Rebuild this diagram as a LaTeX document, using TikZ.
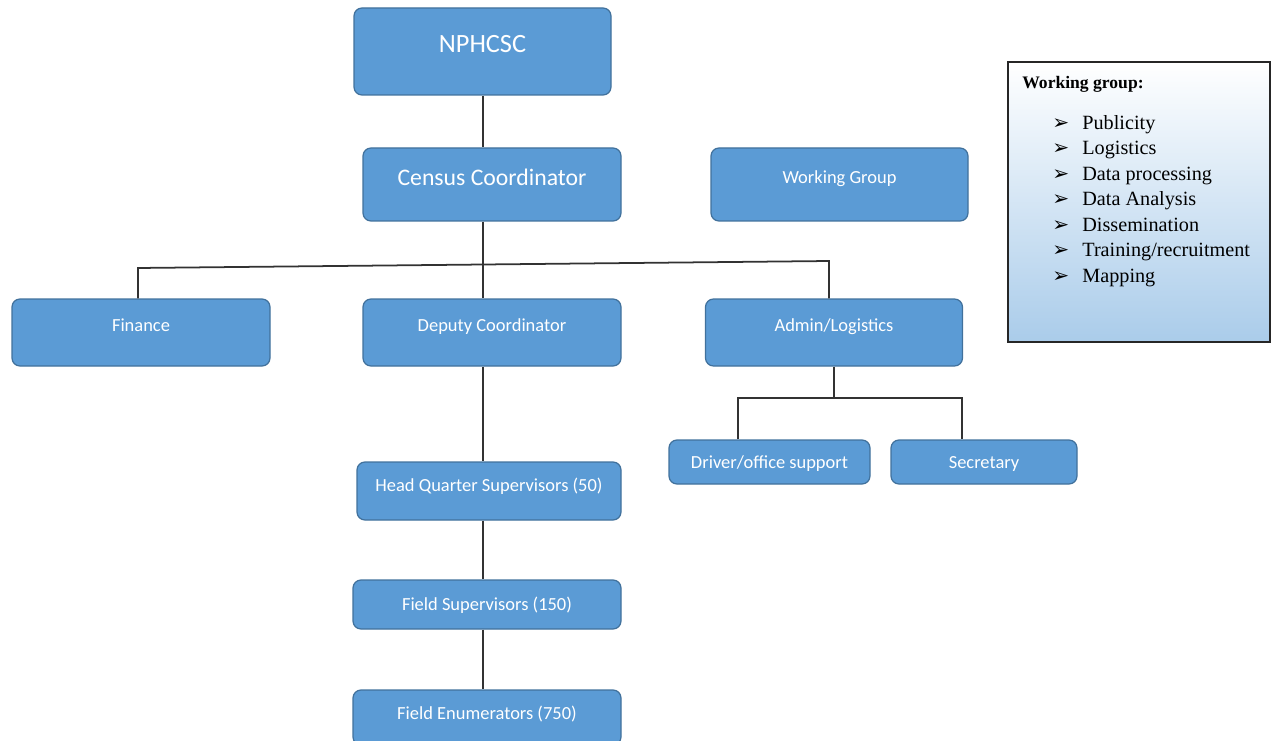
\documentclass[tikz,border=0pt]{standalone}
\usepackage{fontspec}
\newfontfamily\carlito{Carlito}
\newfontfamily\timesfont{Liberation Serif}
\newfontfamily\dejavu{DejaVu Sans}

\definecolor{boxblue}{RGB}{91,155,213}
\definecolor{boxedge}{RGB}{65,113,156}
\definecolor{wgblue}{RGB}{170,204,234}
\definecolor{linkgray}{RGB}{50,50,50}

\tikzset{
  box/.style={draw=boxedge, fill=boxblue, line width=0.7pt, rounded corners=0.16cm,
    text=white, inner sep=0pt, font=\carlito\fontsize{10.5}{12}\selectfont,
    text height=0.24cm, text depth=0.28cm},
  flat/.style={text depth=0cm},
  rootfont/.style={font=\carlito\fontsize{15}{18}\selectfont, text height=0.34cm, text depth=0.30cm},
  leadfont/.style={font=\carlito\fontsize{13.5}{16}\selectfont, text height=0.31cm, text depth=0.26cm},
  link/.style={draw=linkgray, line width=1pt},
  panel/.style={draw=black!85, line width=0.8pt, top color=white, bottom color=wgblue, inner sep=0pt},
  listtext/.style={anchor=base west, inner sep=0pt, font=\timesfont\fontsize{11.5}{14}\selectfont},
  tickmark/.style={anchor=base west, inner sep=0pt, font=\dejavu\fontsize{11.5}{14}\selectfont}
}

\begin{document}
\begin{tikzpicture}

\useasboundingbox (0, 0) rectangle (25.5, 14.8);

\draw (9.65, 13.77) node[box, rootfont, minimum width=5.14cm, minimum height=1.74cm] (np) {NPHCSC};

\draw (9.84, 11.11) node[box, leadfont, minimum width=5.16cm, minimum height=1.46cm] (cc) {Census Coordinator};

\draw (16.79, 11.11) node[box, minimum width=5.14cm, minimum height=1.46cm] (wg) {Working Group};

\draw (2.82, 8.15) node[box, minimum width=5.16cm, minimum height=1.34cm] (fin) {Finance};

\draw (9.84, 8.15) node[box, minimum width=5.16cm, minimum height=1.34cm] (dep) {Deputy Coordinator};

\draw (16.68, 8.15) node[box, minimum width=5.14cm, minimum height=1.34cm] (adm) {Admin/Logistics};

\draw (15.39, 5.56) node[box, flat, minimum width=4.02cm, minimum height=0.88cm] (drv) {Driver/office support};

\draw (19.68, 5.56) node[box, flat, minimum width=3.72cm, minimum height=0.88cm] (sec) {Secretary};

\draw (9.78, 4.98) node[box, text depth=0.24cm, minimum width=5.28cm, minimum height=1.16cm] (hq) {Head Quarter Supervisors (50)};

\draw (9.74, 2.71) node[box, flat, minimum width=5.36cm, minimum height=0.98cm] (fs) {Field Supervisors (150)};

\draw (9.74, 0.45) node[box, text depth=0.18cm, minimum width=5.36cm, minimum height=1.1cm] (fe) {Field Enumerators (750)};

\coordinate (spine) at (9.66, 0);
\coordinate (barL) at (2.76, 9.44);
\coordinate (barR) at (16.58, 9.58);
\coordinate (subL) at (14.76, 6.84);
\coordinate (subR) at (19.24, 6.84);

\draw[link] (spine |- np.south) -- (spine |- cc.north);
\draw[link] (spine |- cc.south) -- (spine |- dep.north);
\draw[link] (spine |- dep.south) -- (spine |- hq.north);
\draw[link] (spine |- hq.south) -- (spine |- fs.north);
\draw[link] (spine |- fs.south) -- (spine |- fe.north);

\draw[link] (barL |- fin.north) -- (barL) -- (barR) -- (barR |- adm.north);

\draw[link] (adm.south) -- (adm.south |- subL);
\draw[link] (subL |- drv.north) -- (subL) -- (subR) -- (subR |- sec.north);

% working group panel
\draw (22.78, 10.76) node[panel, minimum width=5.24cm, minimum height=5.6cm] (wgl) {};

\draw (20.44, 13.03) node[anchor=base west, inner sep=0pt, font=\timesfont\bfseries\fontsize{10}{12}\selectfont] (wgt) {Working group:};

\foreach \task [count=\i] in {Publicity, Logistics, Data processing, Data Analysis, Dissemination, Training/recruitment, Mapping}
{
\draw (21.04, {12.72-0.51*\i}) node[tickmark] (tick\i) {➢};
\draw (21.64, {12.72-0.51*\i}) node[listtext] (task\i) {\task};
}

\end{tikzpicture}
\end{document}
